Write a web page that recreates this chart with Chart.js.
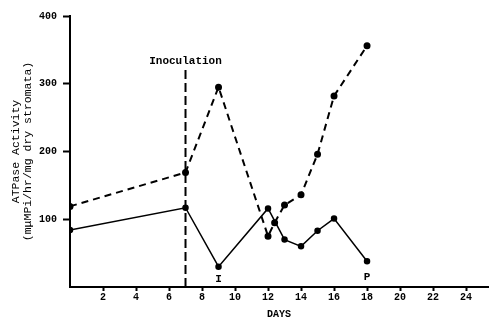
<!DOCTYPE html>
<html>
<head>
<meta charset="utf-8">
<script src="https://cdn.jsdelivr.net/npm/chart.js@4/dist/chart.umd.min.js"></script>
<style>
  html, body { margin: 0; padding: 0; background: #fff; }
  #wrap { width: 494px; height: 320px; }
</style>
</head>
<body>
<div id="wrap"><canvas id="atpChart"></canvas></div>
<script>
// days and ATPase activity
const dashedDays = [0, 7, 9, 12, 12.4, 13, 14, 15, 16, 18];
const dashedValues = [119, 169, 295, 75, 95, 121, 136, 196, 282, 356];
const solidDays = [0, 7, 9, 12, 13, 14, 15, 16, 18];
const solidValues = [84, 117, 30, 116, 70, 60, 83, 101, 38];
const inoculationDay = 7;
const inoculationTop = 325;
const labelTexts = ['Inoculation', 'I', 'P'];
const labelDays = [7, 9, 18];
const labelValues = [333, 12, 14];

const monoFont = '"Liberation Mono", "DejaVu Sans Mono", monospace';

function toPoints(xs, ys) {
    return xs.map((x, i) => ({ x: x, y: ys[i] }));
}

const textLabels = {
    id: 'textLabels',
    afterDatasetsDraw(chart) {
        const ctx = chart.ctx;
        const xs = chart.scales.x;
        const ys = chart.scales.y;
        ctx.save();
        ctx.fillStyle = '#000';
        ctx.font = 'bold 11px ' + monoFont;
        ctx.textAlign = 'center';
        ctx.textBaseline = 'middle';
        labelTexts.forEach((t, i) => {
            ctx.fillText(t, xs.getPixelForValue(labelDays[i]), ys.getPixelForValue(labelValues[i]));
        });
        ctx.restore();
    }
};

const ctx = document.getElementById('atpChart');
new Chart(ctx, {
    type: 'line',
    data: {
        datasets: [{
            label: 'Dashed',
            data: toPoints(dashedDays, dashedValues),
            borderColor: '#000',
            backgroundColor: '#000',
            borderWidth: 2,
            borderDash: [7, 5],
            pointRadius: 2.5,
            tension: 0
        }, {
            label: 'Solid',
            data: toPoints(solidDays, solidValues),
            borderColor: '#000',
            backgroundColor: '#000',
            borderWidth: 1.5,
            pointRadius: 2.5,
            tension: 0
        }, {
            label: 'Inoculation',
            data: toPoints([inoculationDay, inoculationDay], [0, inoculationTop]),
            borderColor: '#000',
            borderWidth: 2,
            borderDash: [9, 4],
            pointRadius: 0
        }]
    },
    options: {
        responsive: true,
        maintainAspectRatio: false,
        animation: false,
        layout: { padding: { top: 16, right: 0, left: 10, bottom: 0 } },
        plugins: {
            legend: { display: false },
            tooltip: { enabled: false }
        },
        scales: {
            x: {
                type: 'linear',
                min: 0,
                max: 25.33,
                afterBuildTicks: scale => {
                    scale.ticks = scale.ticks.filter(t => t.value > 0 && t.value % 2 === 0);
                },
                afterFit: scale => { scale.height = 33; },
                ticks: {
                    stepSize: 2,
                    includeBounds: false,
                    autoSkip: false,
                    color: '#000',
                    padding: 0,
                    maxRotation: 0,
                    font: { family: monoFont, size: 10, weight: 'bold' }
                },
                grid: { drawOnChartArea: false, color: '#000', tickLength: 4, tickWidth: 2 },
                border: { color: '#000', width: 2 },
                title: {
                    display: true,
                    text: 'DAYS',
                    color: '#000',
                    padding: { top: 8, bottom: 0 },
                    font: { family: monoFont, size: 10, weight: 'bold' }
                }
            },
            y: {
                min: 0,
                max: 400,
                afterBuildTicks: scale => {
                    scale.ticks = scale.ticks.filter(t => t.value > 0);
                },
                afterFit: scale => { scale.width = 60; },
                ticks: {
                    stepSize: 100,
                    color: '#000',
                    padding: 6,
                    font: { family: monoFont, size: 10, weight: 'bold' }
                },
                grid: { drawOnChartArea: false, color: '#000', tickLength: 7, tickWidth: 2 },
                border: { color: '#000', width: 2 },
                title: {
                    display: true,
                    text: ['ATPase Activity', '(mμMPi/hr/mg dry stromata)'],
                    color: '#000',
                    padding: { top: 0, bottom: 0 },
                    font: { family: monoFont, size: 11.5, lineHeight: 1.05 }
                }
            }
        }
    },
    plugins: [textLabels]
});
</script>
</body>
</html>
